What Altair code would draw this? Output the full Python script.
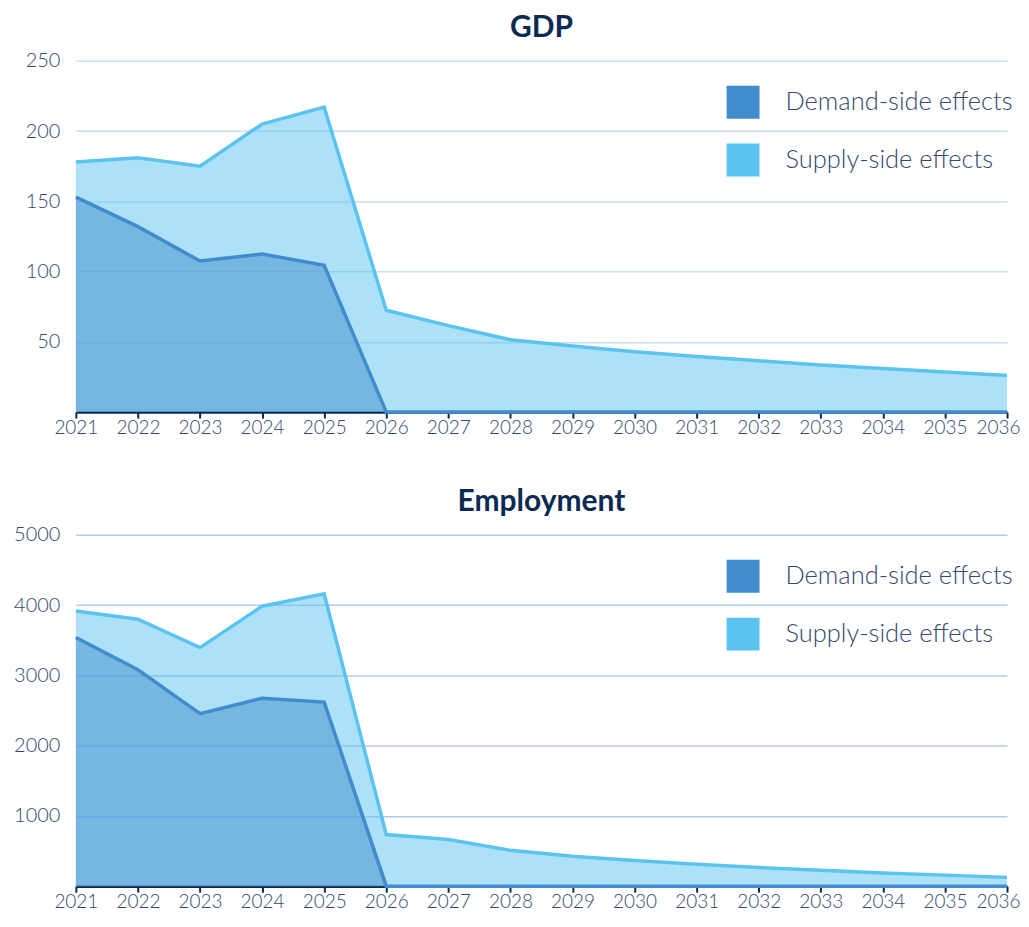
import altair as alt
import pandas as pd

years = list(range(2021, 2037))
series_names = ["Demand-side effects", "Supply-side effects"]
series_colors = ["#418ccc", "#5bc3f0"]

gdp_demand = [153, 132, 107.5, 112.5, 104.5, 0, 0, 0, 0, 0, 0, 0, 0, 0, 0, 0]
gdp_supply = [178, 181, 175, 205, 217, 72.5, 61.5, 51.5, 47, 43, 39.5, 36.5, 33.5, 31, 28.5, 26]

emp_demand = [3540, 3080, 2455, 2675, 2620, 0, 0, 0, 0, 0, 0, 0, 0, 0, 0, 0]
emp_supply = [3915, 3800, 3395, 3985, 4160, 735, 665, 510, 425, 365, 312, 265, 225, 187, 157, 125]

gdp_ticks = [50, 100, 150, 200, 250]
emp_ticks = [1000, 2000, 3000, 4000, 5000]

NAVY = "#0b2a52"
LABEL = "#34486e"
FONT = "Lato"


def long_df(demand, supply):
    rows = []
    for name, vals in zip(series_names, [demand, supply]):
        for y, v in zip(years, vals):
            rows.append({"year": y, "series": name, "value": v})
    return pd.DataFrame(rows)


def panel(title, demand, supply, ticks, grid_color):
    df = long_df(demand, supply)
    base = alt.Chart(df)
    x = alt.X("year:Q", scale=alt.Scale(domain=[2021, 2036], nice=False),
              axis=alt.Axis(values=years, format="d", title=None, grid=False,
                            domainColor=NAVY, domainWidth=2.5, tickColor=NAVY,
                            tickWidth=2, tickSize=6, labelPadding=0,
                            labelFontSize=19, labelColor=LABEL, labelFont=FONT,
                            labelFontWeight=300, labelOverlap=False,
                            labelFlush=False,
                            labelOffset={"condition": {"test": "datum.value == 2036",
                                                       "value": -9},
                                         "value": 0}))
    y = alt.Y("value:Q", scale=alt.Scale(domain=[0, ticks[-1]], nice=False),
              axis=alt.Axis(values=ticks, format="d", title=None, domain=False,
                            ticks=False, gridColor=grid_color, gridWidth=1.5,
                            labelPadding=16, labelFontSize=20, labelColor=LABEL,
                            labelFont=FONT, labelFontWeight=300))
    color_legend = alt.Color(
        "series:N",
        scale=alt.Scale(domain=series_names, range=series_colors),
        legend=alt.Legend(title=None, orient="none", legendX=652, legendY=25,
                          symbolType="square", symbolSize=1089, symbolOpacity=1,
                          symbolStrokeWidth=0, labelFontSize=25.5, labelColor=LABEL,
                          labelFont=FONT, labelFontWeight=300, labelOffset=26,
                          rowPadding=25, padding=0, labelLimit=400),
    )
    color_plain = alt.Color("series:N",
                            scale=alt.Scale(domain=series_names, range=series_colors),
                            legend=None)
    layers = []
    for name in ["Supply-side effects", "Demand-side effects"]:
        sub = base.transform_filter(alt.datum.series == name)
        layers.append(sub.mark_area(fillOpacity=0.5, strokeWidth=0)
                      .encode(x=x, y=y, color=color_legend))
        layers.append(sub.mark_line(strokeWidth=3.5, strokeJoin="miter")
                      .encode(x=x, y=y, color=color_plain))
    return alt.layer(*layers).properties(
        width=933, height=352,
        title=alt.Title(title, fontSize=30, font=FONT, fontWeight="bold",
                        color=NAVY, offset=8, anchor="middle"),
    )


chart = alt.vconcat(
    panel("GDP", gdp_demand, gdp_supply, gdp_ticks, "#c9def0"),
    panel("Employment", emp_demand, emp_supply, emp_ticks, "#afcde9"),
    spacing=50,
).resolve_scale(color="independent").properties(
    padding={"left": 5, "top": 4, "right": 0, "bottom": 0}
).configure_view(stroke=None)

chart.save("out.html", embed_options={"renderer": "svg", "actions": False})
